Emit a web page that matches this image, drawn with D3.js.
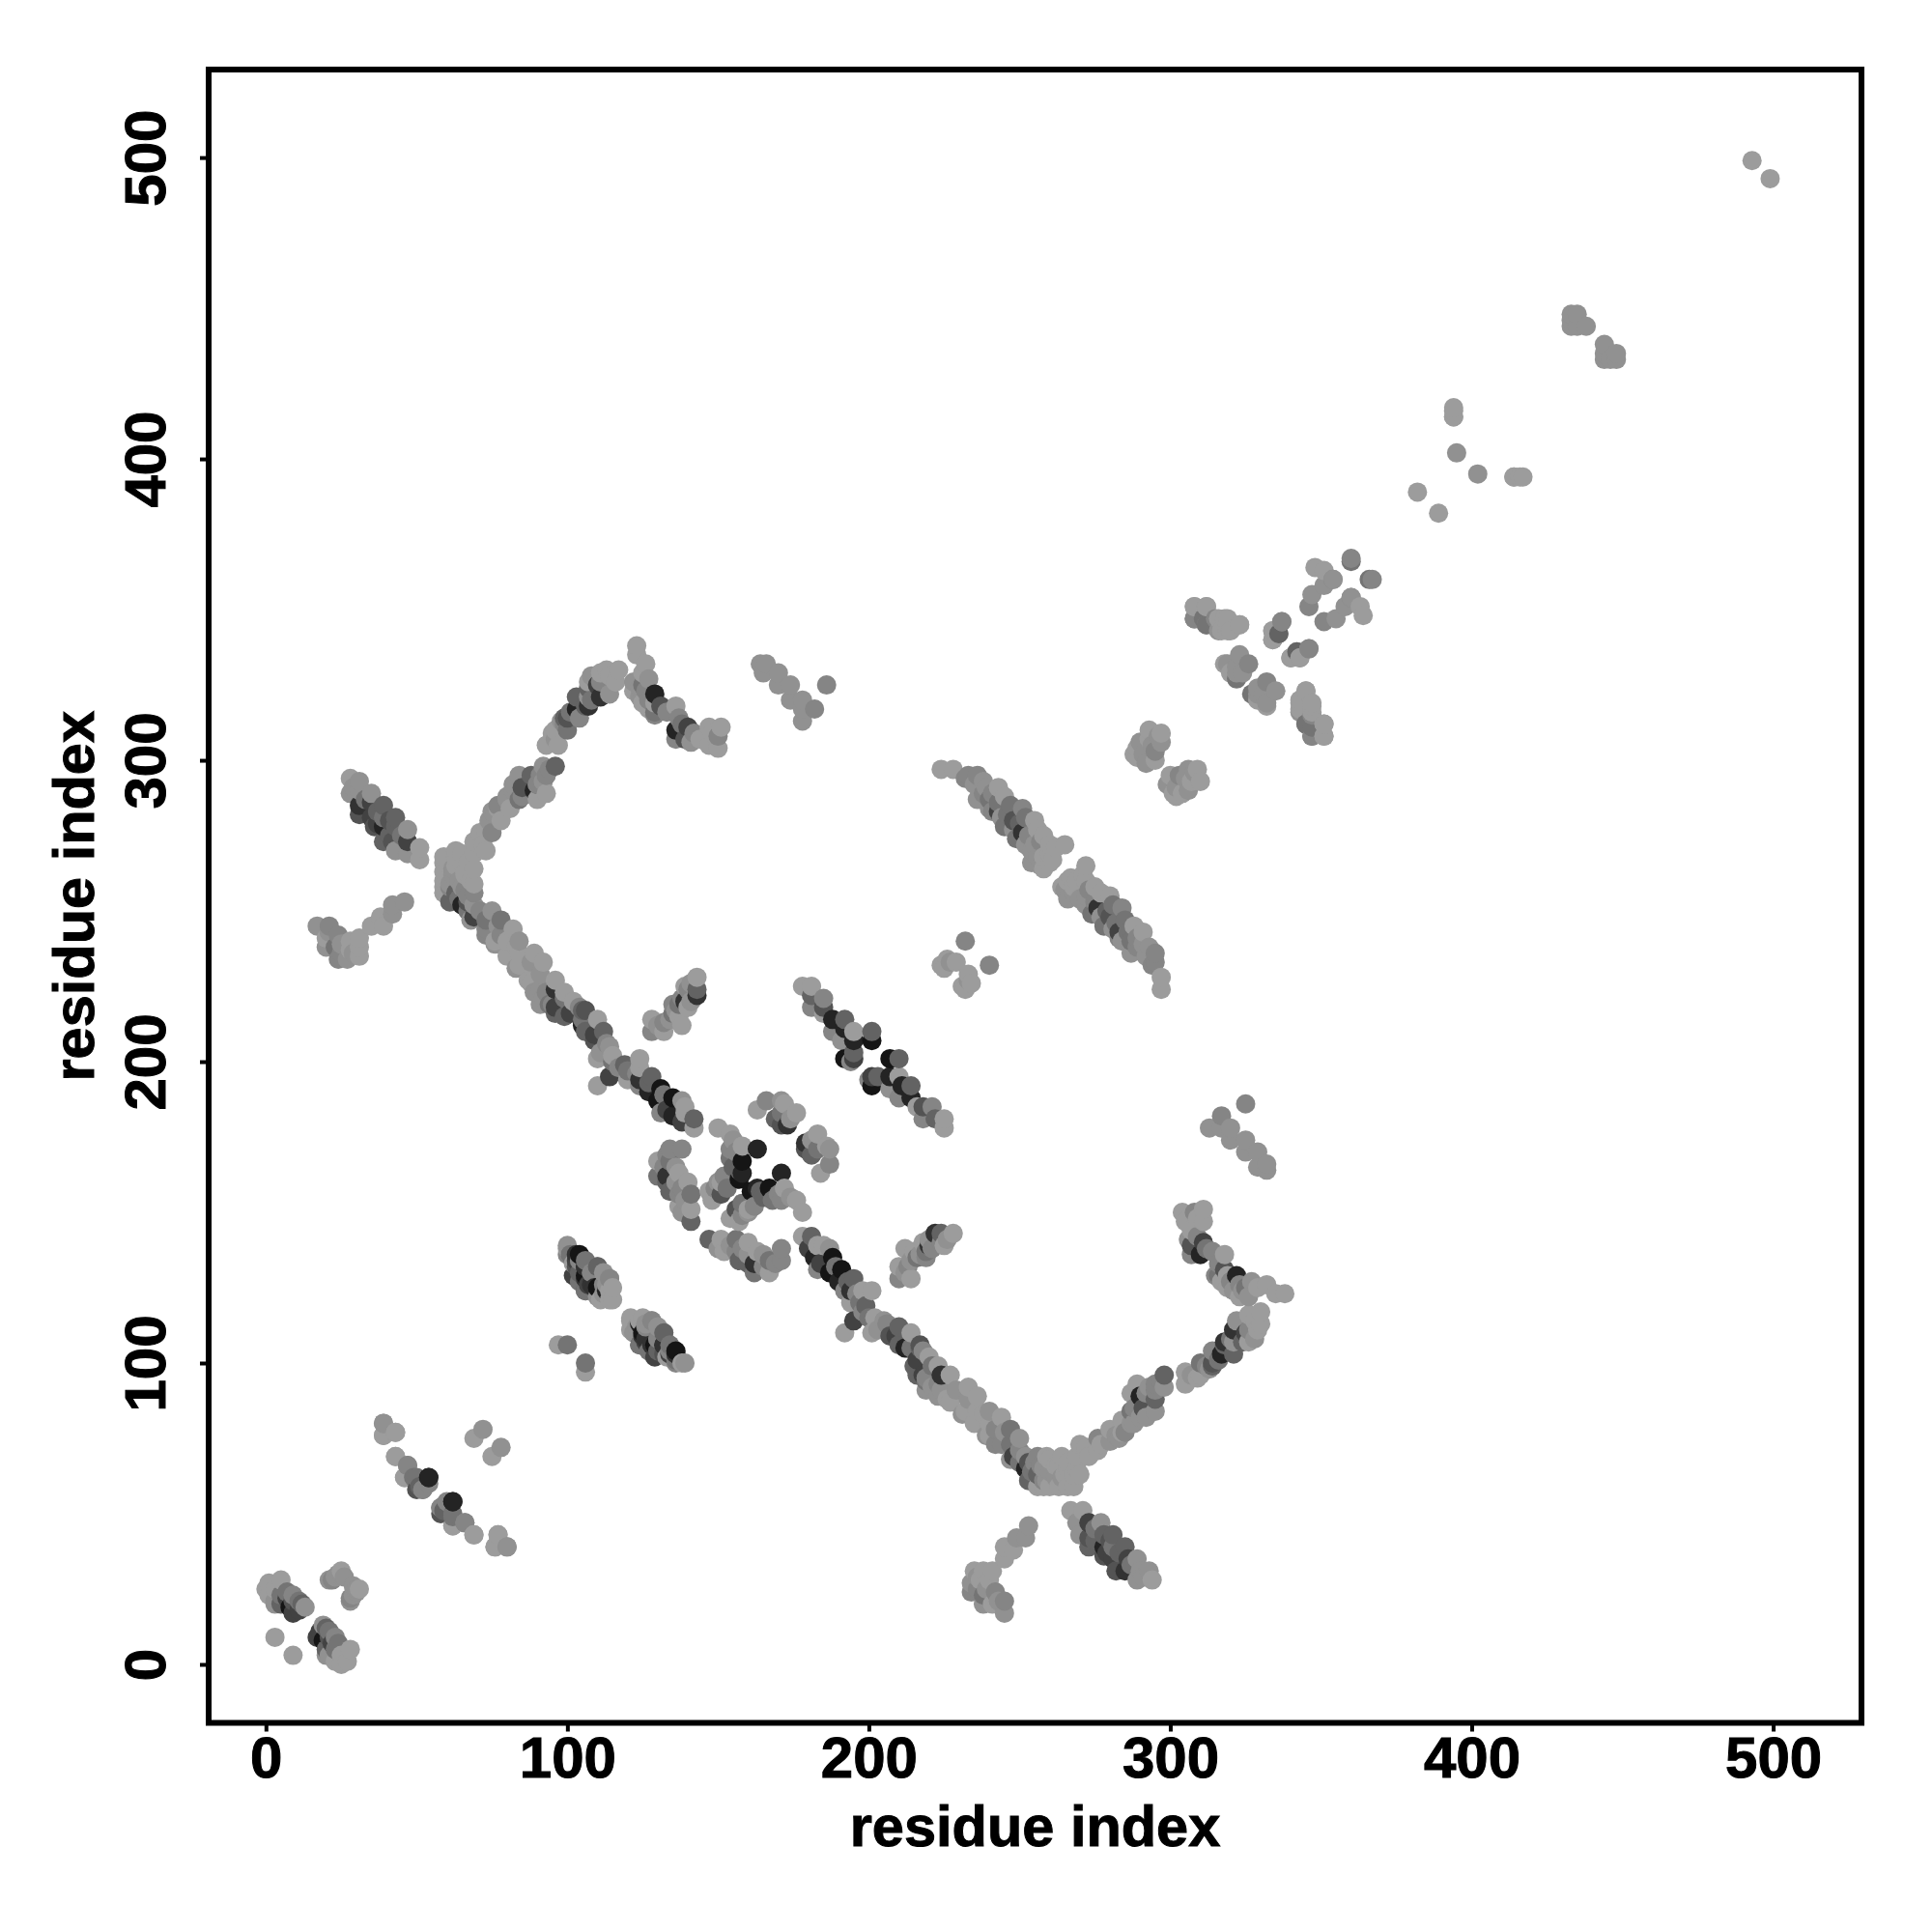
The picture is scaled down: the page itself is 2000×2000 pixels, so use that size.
<!DOCTYPE html>
<html>
<head>
<meta charset="utf-8">
<script src="https://cdn.jsdelivr.net/npm/d3@7"></script>
<style>html,body{margin:0;padding:0;background:#fff}</style>
</head>
<body>
<svg id="chart" width="2000" height="2000"></svg>
<script>
// Contact map values: [residue i, residue j, intensity level 0 (light) .. 9 (dark)]
// The map is symmetric, so each contact is listed once and drawn at (i,j) and (j,i).
const xTicks = [0,100,200,300,400,500];
const yTicks = [0,100,200,300,400,500];
const xTitle = "residue index";
const yTitle = "residue index";

const nTerminal = [[19,13,1],[20,12,4],[17,9,6],[19,8,9],[20,5,4],[23,9,2],[23,5,3],[28,5,0],[20,3,1],[23,1,0],[25,0,0],[27,1,0],
  [31,25,0],[30,24,1],[29,23,1],[28,22,2],[28,21,1],[9,3,0],[21,9,5],[22,7,6],[21,3,1],[25,3,0],[24,7,3],[18,11,6],[21,11,3],[30,25,1],[26,29,1]];
const helixPair = [[54,62,8],[50,62,3],[47,66,2],[46,62,0],[43,69,0],[39,80,1],[39,76,0],[43,77,0],
  [51,59,4],[52,58,3],[54,60,2],[62,54,8],[58,52,2],[58,50,5],[62,49,3],[66,47,2],[62,46,0],[69,43,0],[77,43,0],[76,39,0],[80,39,1],
  [75,69,0],[78,72,1]];
const strandAlpha = [[100,139,1],[100,136,2],[103,136,7],[102,133,0],[102,129,6],[106,132,7],[110,132,1],[106,129,9],[106,124,5],[110,125,9],[114,128,1],[111,121,0],[115,125,0],[115,121,0],
  [104,134,2],[108,130,4],[104,127,3],[108,126,7],[112,123,1],[113,126,1],
  [121,114,0],[124,114,0],[128,114,2],[124,113,8],[122,110,1],[125,109,7],[132,110,4],[124,106,3],[128,106,7],[132,106,7],[130,108,2],[136,104,9],[134,103,6],[138,100,0],[132,103,5],
  [126,112,2],[130,112,1],[126,107,6],[130,104,4],[134,106,3],[136,101,3],
  [106,100,3],[106,97,0]];
const strandBeta = [[128,210,2],[128,214,0],[132,210,0],[132,213,2],[135,216,3],[135,219,2],[138,212,0],[136,217,1],[138,221,2],[139,220,7],[140,218,0],[140,224,2],[143,222,7],[143,224,4],[143,228,0],[139,225,0],
  [130,212,1],[134,214,1],[137,219,3],[141,220,1],[141,226,1],[137,215,0]];
const centreLoop = [[147,141,4],[151,141,0],[156,141,3],[152,137,0],[156,137,2],[160,140,0],[163,137,0],[157,134,4],[162,133,7],[162,130,3],[167,134,3],[167,130,0],[171,138,2],[171,134,2],
  [171,163,8],[161,157,9],[163,158,8],[164,157,4],[167,158,9],[172,158,0],[168,154,3],[171,154,2],[176,154,0],[178,150,0],[160,150,1],[156,151,5],[154,148,0],[157,147,0],
  [160,151,0],[158,149,2],
  [150,138,1],[154,139,1],[158,138,2],[160,136,1],[165,132,2],[165,136,1],[160,133,4],[169,133,2],[170,156,2],[165,155,4],[174,155,1],[162,152,2],[158,153,3],
  [179,171,5],[179,173,7],[181,169,4],[183,171,3],[181,174,1],[183,176,0],[187,171,1],[187,166,2],[184,163,0],[186,172,0]];
const mainBandA = [[178,142,0],[183,139,0],[181,142,4],[180,138,6],[185,139,0],[182,135,8],[183,131,2],[188,135,9],[187,130,9],[191,131,9],[190,127,8],[195,128,4],[194,124,7],[192,124,2],[198,124,0],[201,124,0],[194,120,0],[199,119,4],[195,114,6],[192,110,0],[200,115,3],[202,115,0],[201,110,0],[206,113,2],[210,112,4],[209,109,6],[214,110,0],[212,105,8],[217,105,4],[213,105,8],[217,106,5],[216,101,6],[220,102,0],[223,99,0],[216,96,4],[224,96,7],[219,94,3],[227,96,0],[223,93,2],[226,88,0],
  [187,138,1],[184,133,6],[189,132,3],[193,127,4],[196,123,2],[197,120,3],[198,117,2],[203,111,1],[207,109,5],[210,106,4],[205,114,1],[214,105,3],[218,104,2],[221,99,3],[215,99,4],[218,96,6],[221,92,1],[224,91,1],[219,95,2]];
const mainBandB = [[233,92,0],[236,89,0],[232,84,0],[236,84,0],[235,80,0],[240,84,1],[244,82,0],[240,80,0],[240,76,0],[247,78,3],[244,73,2],[250,75,1],[248,69,6],[252,65,8],[253,61,4],[256,59,0],[260,59,0],[263,59,0],[266,59,0],[256,69,2],[259,69,0],[264,69,0],[256,63,4],[260,64,1],[265,63,0],[269,65,0],[269,69,0],[272,72,0],
  [229,91,1],[233,88,1],[238,83,0],[242,78,2],[245,77,1],[247,73,3],[250,71,2],[252,69,1],[253,67,5],[254,64,3],[258,65,1],[258,61,2],[262,62,1],[263,66,0],[266,67,0],[268,63,0],
  [219,91,1],[223,89,1],[227,87,0],[231,83,1],[239,76,1],[242,73,2],[247,68,1],[250,67,3],[258,59,0],[268,59,0],[260,68,0],[262,66,0],[266,65,0],[270,63,0],[257,66,2],[259,61,1],[255,67,2],[264,62,1]];
const armLower = [[276,75,2],[277,73,0],[280,78,0],[282,76,1],[284,81,0],[284,77,0],[287,84,3],[288,80,1],[292,82,1],[287,90,0],[290,89,8],[289,93,0],[292,90,4],[295,93,2],[295,88,4],[295,84,1],[298,96,4],[298,92,1],
  [273,69,0],[270,73,0],[276,71,0],[280,74,1],[283,75,1],[285,77,2],[287,80,1],[290,82,1],[288,85,2],[291,85,5],[292,90,2],[293,92,1],[295,91,2],[297,94,2],
  [305,97,0],[305,93,0],[310,100,3],[310,96,0],[314,100,5],[314,99,4],[317,103,8],[314,104,2],[321,103,4],[318,107,7],[321,107,1],[326,107,0],[321,111,7],[325,110,6],[329,111,0],[322,114,1],[328,114,0],[326,116,0],[330,117,0],
  [307,96,1],[309,95,0],[312,99,2],[313,98,1],[316,101,3],[318,106,4],[320,108,3],[324,107,4],[326,111,2],[328,108,1],[330,113,0]];
const armUpper = [[304,150,0],[308,150,2],[311,151,0],[305,147,0],[311,147,0],[307,144,0],[307,139,5],[311,140,6],[307,136,2],[310,136,8],[314,137,2],[318,136,0],[315,129,2],[318,131,5],[319,129,0],[322,129,8],[319,125,0],[323,126,2],[325,125,3],[323,122,0],[329,125,0],[332,126,0],[335,123,0],[338,123,0],
  [309,142,2],[309,148,0],[306,141,1],[312,138,3],[316,133,2],[316,129,3],[320,127,2],[321,124,1],[324,124,1],[326,122,1],[327,127,1],[317,127,0]];
const tailLeft = [[253,46,1],[249,42,1],[252,42,1],[245,39,0],[248,38,0],[245,35,0],[235,31,0],[238,31,0],[241,31,0],[234,27,1],[237,28,0],[240,28,0],[234,24,2],[238,23,3],[238,20,1],[242,24,2],[241,20,0],[245,21,2],[245,17,1],
  [236,29,1],[239,25,1],[243,21,1],[236,25,2]];
const tailRight = [[267,51,0],[271,51,0],[269,47,1],[273,47,6],[277,47,1],[270,43,1],[273,42,5],[278,43,4],[281,43,4],[273,39,4],[278,39,8],[281,39,3],[285,39,4],[278,36,5],[281,35,6],[286,35,6],[282,31,5],[285,31,7],[289,35,1],[290,31,1],[293,31,1],[289,28,1],[294,28,0],
  [275,45,3],[275,41,4],[280,41,5],[283,37,4],[287,33,3],[291,29,1],[279,37,6]];
const darkStrand = [[207,201,9],[210,201,4],[200,194,2],[201,195,6],[201,192,9],[203,195,4],[207,195,8],[207,191,1],[210,195,0],[211,192,8],[214,192,4],[210,188,2],[214,188,8],[216,185,0],[218,185,5],[221,185,2],[218,181,2],[222,181,4],[225,181,0],[225,178,0]];
const longStrand = [[264,258,0],[265,257,1],[267,261,0],[271,262,0],[272,265,0],[268,256,1],[273,257,2],[272,252,1],[277,256,0],[280,255,0],[276,251,7],[277,248,1],[281,252,3],[284,251,2],[280,248,5],[281,244,1],[285,247,3],[283,243,6],[288,245,0],[291,243,0],[284,240,1],[287,240,3],[291,239,1],[287,236,1],[295,236,2],[292,235,1],[295,233,2],[294,232,2],[297,228,0],[297,224,0],
  [266,254,1],[269,260,0],[270,254,1],[275,253,2],[274,249,3],[278,245,3],[279,250,4],[282,246,3],[283,241,2],[286,243,3],[289,241,2],[289,238,2],[293,238,1],[266,260,0],[268,258,0],[272,260,0],[275,258,0],[272,255,1]];
const smallKnots = [[231,225,0],[234,226,0],[232,224,0],[233,227,1],[233,229,0],[240,232,2]];
const sideCluster = [[325,186,2],[317,182,2],[313,178,1],[317,178,1],[320,178,1],[320,174,1],[325,174,1],[325,170,1],[329,170,1],[332,166,1],[329,165,1],[332,164,1]];
const upperClusterA = [[309,297,0],[306,297,1],[300,295,0],[305,294,1],[307,293,0],[302,291,1],[301,289,0],[304,289,0],[299,292,1],[303,295,2],[302,288,0],[306,290,1],[310,293,0],[308,296,1]];
const upperClusterB = [[308,351,0],[312,351,0],[308,347,3],[311,347,3],[312,345,2],[316,347,0],[319,347,0],[323,345,0],[317,343,0],[319,343,0],[345,323,0],[343,320,0],[347,318,0],[343,316,1],[347,315,2],[345,312,3],[351,312,0],[347,308,2],[351,308,0]];
const upperClusterC = [[346,337,1],[342,336,0],[340,334,0],[343,334,0],[337,346,2],[336,342,4],[334,340,0],[334,343,0],
  [332,318,0],[329,320,0],[329,322,1],[327,322,3],[332,319,1],[335,323,1],[332,326,2],[329,324,1],[331,322,1],
  [367,360,2],[360,366,3],[363,351,0],[364,348,0],[360,354,2],[358,351,1],[355,347,1],[351,346,2],[354,360,1]];
const farContacts = [[444,438,1],[448,435,1],[444,435,1],[446,433,1],[448,433,1],[444,433,1],[417,394,0],[414,394,0],[402,395,1],[389,382,0],[394,416,0],[394,414,0],[499,493,0]];

const contacts = [].concat(nTerminal, helixPair, strandAlpha, strandBeta, centreLoop, mainBandA, mainBandB, armLower, armUpper,
  tailLeft, tailRight, darkStrand, longStrand, smallKnots, sideCluster, upperClusterA, upperClusterB, upperClusterC, farContacts);

const svg = d3.select("#chart");
const box = {left:216, right:1927, top:72, bottom:1783.5};
const x = d3.scaleLinear().domain([-19,529.3]).range([box.left, box.right]);
const y = d3.scaleLinear().domain([-19.4,529.2]).range([box.bottom, box.top]);
const shade = d3.scaleLinear().domain([0,2,4,7,9]).range(["#9c9c9c","#858585","#636363","#323232","#151515"]);

const font = '"Liberation Sans", Arial, Helvetica, sans-serif';

const pts = [];
contacts.forEach(c => { pts.push({x:c[0],y:c[1],l:c[2]}); pts.push({x:c[1],y:c[0],l:c[2]}); });
pts.sort((a,b) => d3.ascending(a.x,b.x) || d3.ascending(a.y,b.y));
svg.append("g").selectAll("circle").data(pts).join("circle")
  .attr("cx", d => x(d.x)).attr("cy", d => y(d.y)).attr("r", 10)
  .attr("fill", d => shade(d.l));

const xAxis = svg.append("g").attr("transform", `translate(0,${box.bottom})`)
  .call(d3.axisBottom(x).tickValues(xTicks).tickSize(9).tickPadding(0).tickFormat(d3.format("d")));
xAxis.select(".domain").remove();
xAxis.selectAll("line").attr("stroke","#000").attr("stroke-width",4);
xAxis.selectAll("text").attr("y",null).attr("dy",null)
  .attr("transform","translate(0,56.5)")
  .style("font-family",font).style("font-weight","bold").style("font-size","60px").style("stroke","#000").style("stroke-width","1px").attr("fill","#000").attr("text-anchor","middle");

const yAxis = svg.append("g").attr("transform", `translate(${box.left},0)`)
  .call(d3.axisLeft(y).tickValues(yTicks).tickSize(9).tickPadding(0).tickFormat(d3.format("d")));
yAxis.select(".domain").remove();
yAxis.selectAll("line").attr("stroke","#000").attr("stroke-width",4);
yAxis.selectAll("text").attr("x",null).attr("dy",null)
  .attr("transform","translate(-45,0) rotate(-90)")
  .style("font-family",font).style("font-weight","bold").style("font-size","60px").style("stroke","#000").style("stroke-width","1px").attr("fill","#000").attr("text-anchor","middle");

svg.append("rect").attr("x",box.left).attr("y",box.top)
  .attr("width",box.right-box.left).attr("height",box.bottom-box.top)
  .attr("fill","none").attr("stroke","#000").attr("stroke-width",6);

svg.append("text").attr("x",(box.left+box.right)/2).attr("y",1911).attr("text-anchor","middle")
  .style("font-family",font).style("font-weight","bold").style("font-size","59.5px").style("stroke","#000").style("stroke-width","1px").text(xTitle);
svg.append("text").attr("transform",`translate(97,${(box.top+box.bottom)/2}) rotate(-90)`).attr("text-anchor","middle")
  .style("font-family",font).style("font-weight","bold").style("font-size","59.5px").style("stroke","#000").style("stroke-width","1px").text(yTitle);
</script>
</body>
</html>
